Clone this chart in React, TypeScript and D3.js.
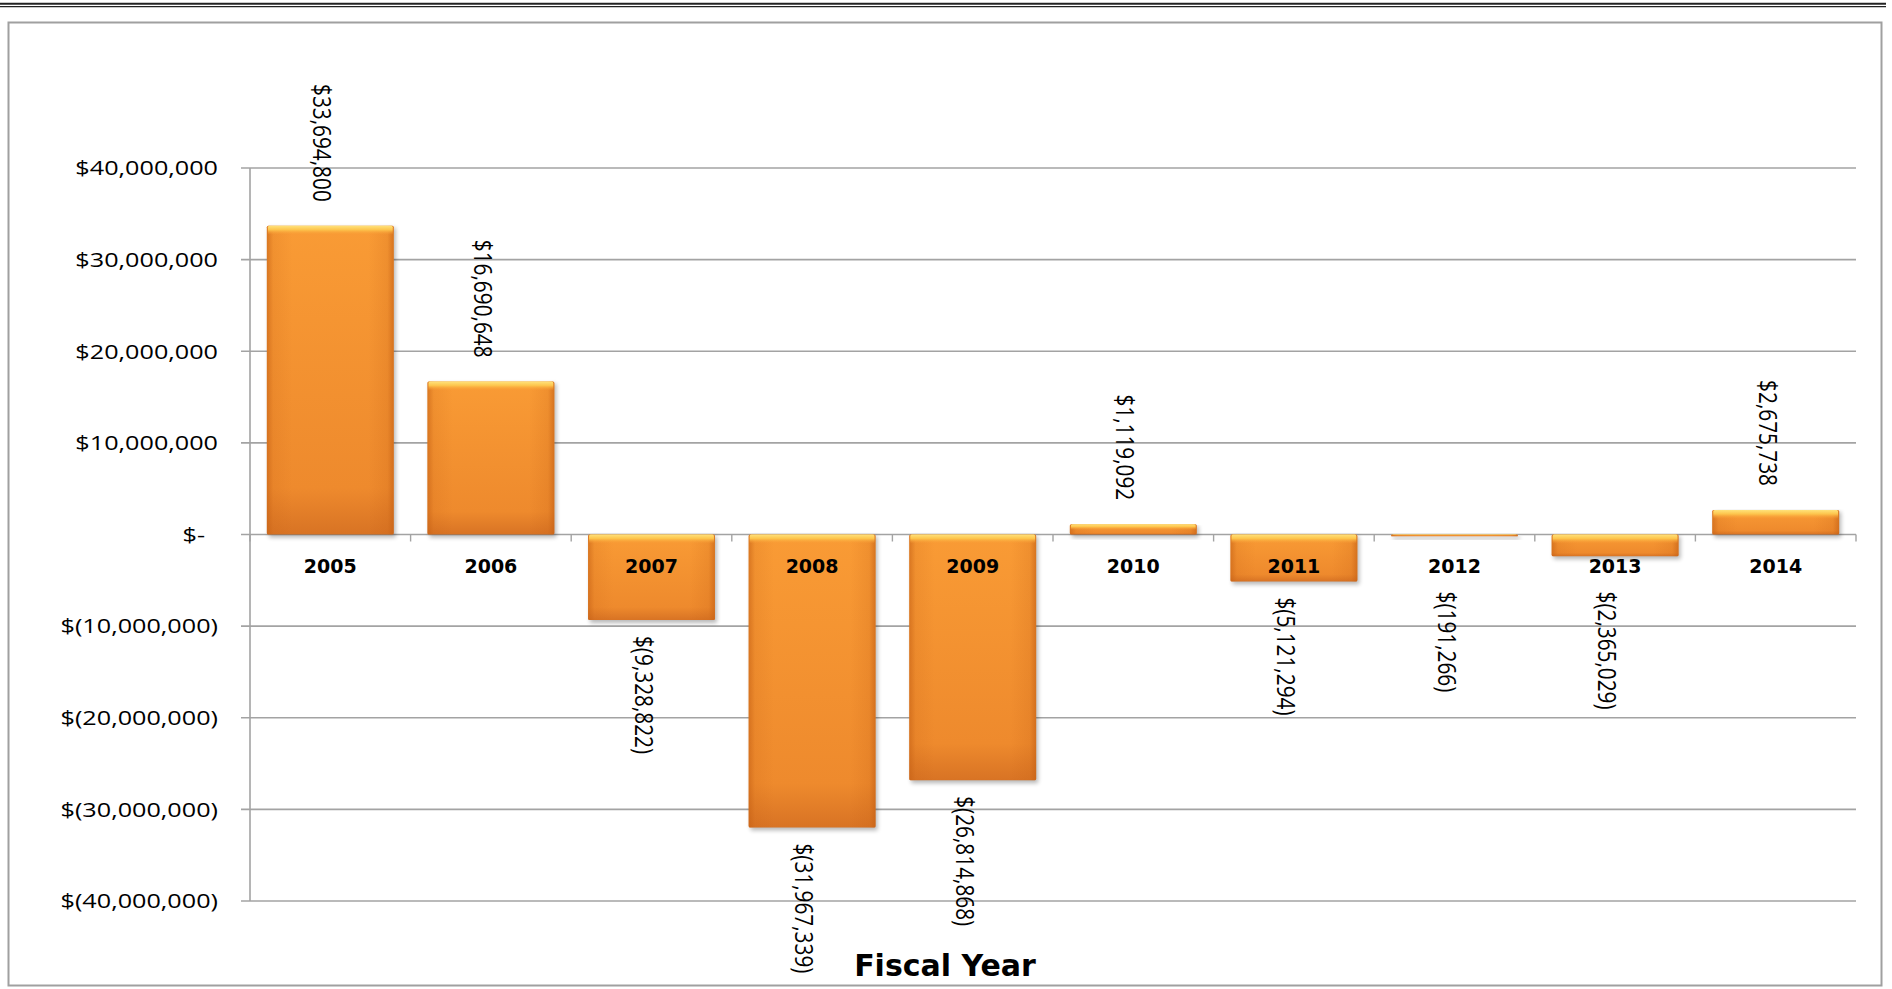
import React from 'react';
import * as d3 from 'd3';

// ---------- data ----------
const years: string[] = ['2005', '2006', '2007', '2008', '2009', '2010', '2011', '2012', '2013', '2014'];
const values: number[] = [33694800, 16690648, -9328822, -31967339, -26814868, 1119092, -5121294, -191266, -2365029, 2675738];
const yTicks: number[] = [40000000, 30000000, 20000000, 10000000, 0, -10000000, -20000000, -30000000, -40000000];
const xTitle = 'Fiscal Year';

const W = 1892;
const H = 989;
const PLOT = { left: 250, right: 1856, top: 168, bottom: 901 };

const num = d3.format(',');
const money = (v: number) => (v === 0 ? '$-' : v < 0 ? `$(${num(-v)})` : `$${num(v)}`);

const CAL = "'Open Sans', 'Noto Sans', sans-serif";
const VER = "'DejaVu Sans', Verdana, sans-serif";
const GRID = '#a3a3a3';

export default function App() {
  const x = d3.scaleBand<string>().domain(years).range([PLOT.left, PLOT.right]).paddingInner(0.21).paddingOuter(0.105);
  const y = d3.scaleLinear().domain([-40000000, 40000000]).range([PLOT.bottom, PLOT.top]);
  const y0 = y(0);
  const step = x.step();
  const bw = x.bandwidth();

  return (
    <svg width={W} height={H} viewBox={`0 0 ${W} ${H}`} style={{ position: 'absolute', left: 0, top: 0, background: '#fff' }}>
      <defs>
        <linearGradient id="barV" x1="0" y1="0" x2="0" y2="1">
          <stop offset="0" stopColor="#f99b35" />
          <stop offset="0.85" stopColor="#ee8a2d" />
          <stop offset="1" stopColor="#d87324" />
        </linearGradient>
        <linearGradient id="barH" x1="0" y1="0" x2="1" y2="0">
          <stop offset="0" stopColor="#c45f14" stopOpacity="0.6" />
          <stop offset="0.05" stopColor="#c45f14" stopOpacity="0.15" />
          <stop offset="0.2" stopColor="#c45f14" stopOpacity="0" />
          <stop offset="0.8" stopColor="#c45f14" stopOpacity="0" />
          <stop offset="0.95" stopColor="#c45f14" stopOpacity="0.18" />
          <stop offset="1" stopColor="#c45f14" stopOpacity="0.65" />
        </linearGradient>
        <linearGradient id="barTop" x1="0" y1="0" x2="0" y2="1">
          <stop offset="0" stopColor="#ffe27a" />
          <stop offset="0.45" stopColor="#fdc44c" />
          <stop offset="1" stopColor="#f99b35" stopOpacity="0" />
        </linearGradient>
        <filter id="shadow" x="-10%" y="-10%" width="130%" height="130%">
          <feGaussianBlur stdDeviation="2" />
        </filter>
      </defs>

      {/* top double rule */}
      <line x1={0} x2={1886} y1={3.8} y2={3.8} stroke="#222" strokeWidth={2} />
      <line x1={0} x2={1886} y1={6.6} y2={6.6} stroke="#222" strokeWidth={1.2} />

      {/* outer frame */}
      <rect x={8.5} y={22.5} width={1873} height={963} fill="none" stroke="#a0a0a0" strokeWidth={2} />

      {/* gridlines */}
      {yTicks.map((t) => (
        <line key={`g${t}`} x1={PLOT.left - 9} x2={PLOT.right} y1={y(t)} y2={y(t)} stroke={GRID} strokeWidth={1.6} />
      ))}
      {/* y axis */}
      <line x1={PLOT.left} x2={PLOT.left} y1={y(40000000)} y2={y(-40000000)} stroke={GRID} strokeWidth={1.6} />
      {/* x ticks at category boundaries */}
      {d3.range(years.length + 1).map((i) => (
        <line key={`xt${i}`} x1={PLOT.left + i * step} x2={PLOT.left + i * step} y1={y0} y2={y0 + 7} stroke={GRID} strokeWidth={1.4} />
      ))}

      {/* bars */}
      {years.map((yr, i) => {
        const v = values[i];
        const bx = x(yr) as number;
        const top = Math.min(y(v), y0);
        const h = Math.max(Math.abs(y(v) - y0), 1.2);
        const bev = Math.min(9, h * 0.55);
        return (
          <g key={`b${yr}`}>
            <rect x={bx + 2} y={top + 2} width={bw} height={h + 1} fill="#000" opacity={0.28} filter="url(#shadow)" />
            <rect x={bx} y={top} width={bw} height={h} fill="url(#barV)" rx={1.5} />
            <rect x={bx} y={top} width={bw} height={h} fill="url(#barH)" rx={1.5} />
            <rect x={bx + 1} y={top} width={bw - 2} height={bev} fill="url(#barTop)" rx={1.5} />
          </g>
        );
      })}

      {/* y tick labels */}
      {yTicks.map((t) => (
        <text
          key={`yl${t}`}
          transform={`translate(${218 - (t === 0 ? 13 : 0)},${y(t) + 7.3}) scale(1.26,1)`}
          textAnchor="end"
          fontFamily={CAL}
          fontSize={20}
          fill="#000"
        >
          {money(t)}
        </text>
      ))}

      {/* category labels */}
      {years.map((yr) => (
        <text
          key={`cl${yr}`}
          x={(x(yr) as number) + bw / 2}
          y={y0 + 38}
          textAnchor="middle"
          fontFamily={VER}
          fontWeight="bold"
          fontSize={19}
          fill="#000"
        >
          {yr}
        </text>
      ))}

      {/* rotated data labels */}
      {years.map((yr, i) => {
        const v = values[i];
        const cx = (x(yr) as number) + bw / 2 - 17;
        const pos = v >= 0;
        const ly = pos ? y(v) - 24 : Math.max(y(v) + 16, y0 + 57);
        return (
          <text
            key={`dl${yr}`}
            transform={`translate(${cx},${ly}) scale(1.25,1) rotate(90)`}
            textAnchor={pos ? 'end' : 'start'}
            fontFamily={CAL}
            fontSize={20.8}
            fill="#000"
          >
            {money(v)}
          </text>
        );
      })}

      {/* axis title */}
      <text x={945} y={976} textAnchor="middle" fontFamily={VER} fontWeight="bold" fontSize={30} fill="#000">
        {xTitle}
      </text>
    </svg>
  );
}
